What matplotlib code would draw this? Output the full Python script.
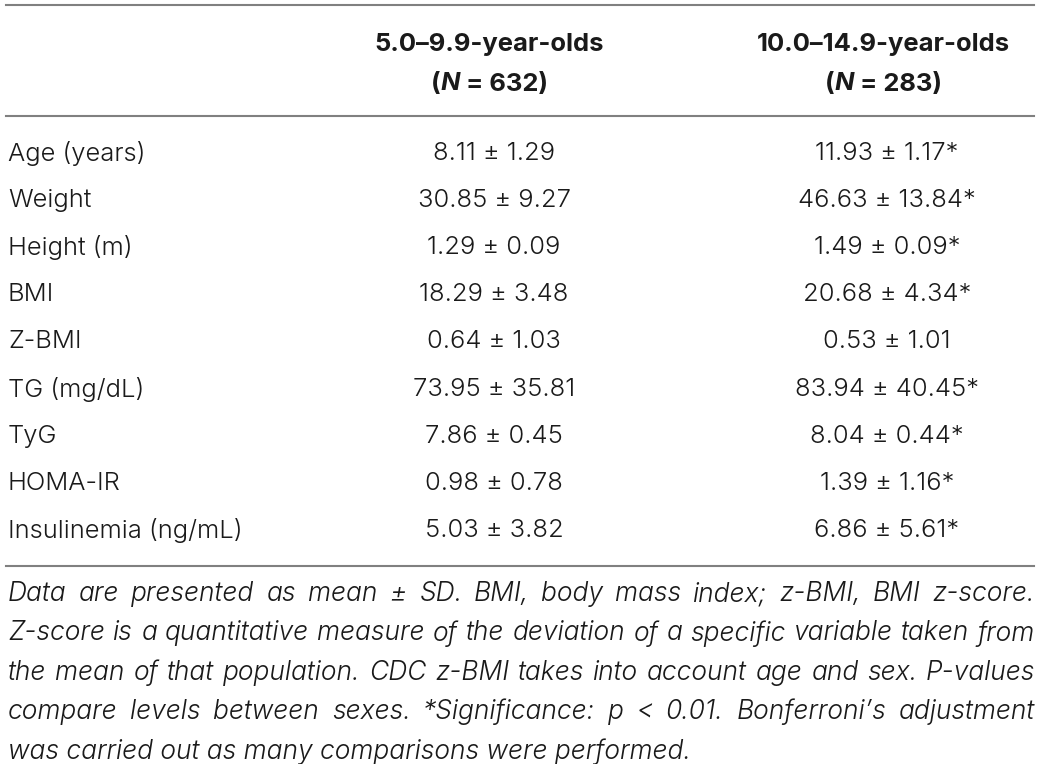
import os
import matplotlib
matplotlib.use("Agg")
import matplotlib.pyplot as plt
from matplotlib import font_manager
from matplotlib.font_manager import FontProperties

W, H = 1041, 764

col_headers = [("5.0–9.9-year-olds", "632"), ("10.0–14.9-year-olds", "283")]
row_labels = ["Age (years)", "Weight", "Height (m)", "BMI", "Z-BMI",
              "TG (mg/dL)", "TyG", "HOMA-IR", "Insulinemia (ng/mL)"]
young = ["8.11 ± 1.29", "30.85 ± 9.27", "1.29 ± 0.09", "18.29 ± 3.48",
         "0.64 ± 1.03", "73.95 ± 35.81", "7.86 ± 0.45", "0.98 ± 0.78",
         "5.03 ± 3.82"]
older = ["11.93 ± 1.17*", "46.63 ± 13.84*", "1.49 ± 0.09*", "20.68 ± 4.34*",
         "0.53 ± 1.01", "83.94 ± 40.45*", "8.04 ± 0.44*", "1.39 ± 1.16*",
         "6.86 ± 5.61*"]
footnote_lines = [
    "Data are presented as mean ± SD. BMI, body mass index; z-BMI, BMI z-score.",
    "Z-score is a quantitative measure of the deviation of a specific variable taken from",
    "the mean of that population. CDC z-BMI takes into account age and sex. P-values",
    "compare levels between sexes. *Significance: p < 0.01. Bonferroni’s adjustment",
    "was carried out as many comparisons were performed.",
]

files = {os.path.basename(f.fname): f.fname for f in font_manager.fontManager.ttflist}


def fp(candidates, size, fallback_kw):
    for c in candidates:
        if c in files:
            return FontProperties(fname=files[c], size=size)
    return FontProperties(size=size, **fallback_kw)


fs = 18.4
ffs = 19.0
reg = fp(["Inter-Light.otf", "LiberationSans-Regular.ttf"], fs, {"family": "DejaVu Sans"})
bold = fp(["Inter-Bold.otf", "LiberationSans-Bold.ttf"], fs,
          {"family": "DejaVu Sans", "weight": "bold"})
boldit = fp(["Inter-BoldItalic.otf", "LiberationSans-BoldItalic.ttf"], fs,
            {"family": "DejaVu Sans", "weight": "bold", "style": "italic"})
footp = fp(["Inter-LightItalic.otf", "LiberationSans-Italic.ttf"], ffs,
           {"family": "DejaVu Sans", "style": "italic"})

fig = plt.figure(figsize=(W / 100, H / 100), dpi=100)
ax = fig.add_axes([0, 0, 1, 1])
ax.set_xlim(0, W)
ax.set_ylim(H, 0)
ax.axis("off")
fig.canvas.draw()
renderer = fig.canvas.get_renderer()


def width_of(t):
    return t.get_window_extent(renderer=renderer).width


line_kw = dict(color="#808080", lw=1.5)
x0, x1 = 6, 1034
for y in (5, 116, 566):
    ax.plot([x0, x1], [y, y], **line_kw)

tc = "#1a1a1a"
col_x = [489, 883]
for cx, (hdr, n) in zip(col_x, col_headers):
    ax.text(cx, 45, hdr, ha="center", va="center", fontproperties=bold, color=tc)
    parts = [("(", bold), ("N", boldit), (" = " + n + ")", bold)]
    arts = [ax.text(0, 84, s, ha="left", va="center", fontproperties=p, color=tc)
            for s, p in parts]
    ws = [width_of(a) for a in arts]
    x = cx - sum(ws) / 2
    for a, w in zip(arts, ws):
        a.set_x(x)
        x += w

row_y0, row_dy = 153, 47.2
for i, (lab, a, b) in enumerate(zip(row_labels, young, older)):
    y = row_y0 + i * row_dy
    ax.text(8, y, lab, ha="left", va="center", fontproperties=reg, color=tc)
    ax.text(494, y, a, ha="center", va="center", fontproperties=reg, color=tc)
    ax.text(887, y, b, ha="center", va="center", fontproperties=reg, color=tc)

# justified italic footnote
foot_y0, foot_dy = 594, 39.3
left, right = 8, 1035
for li, line in enumerate(footnote_lines):
    y = foot_y0 + li * foot_dy
    if li == len(footnote_lines) - 1:
        ax.text(left, y, line, ha="left", va="center", fontproperties=footp, color=tc)
        continue
    words = line.split(" ")
    arts = [ax.text(0, y, w, ha="left", va="center", fontproperties=footp, color=tc)
            for w in words]
    widths = [width_of(t) for t in arts]
    gap = max(3.0, (right - left - sum(widths)) / (len(words) - 1))
    x = left
    for t, wdt in zip(arts, widths):
        t.set_x(x)
        x += wdt + gap

fig.savefig("out.png", dpi=100)
